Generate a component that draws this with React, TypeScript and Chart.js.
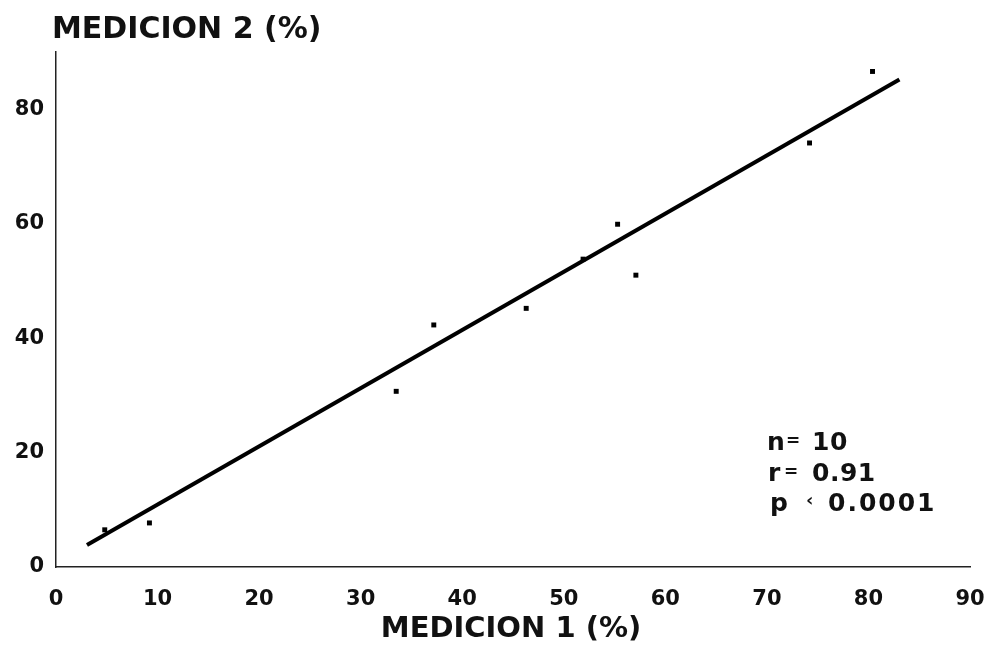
import React, { useEffect, useRef } from "react";
import { Chart, registerables } from "chart.js";

Chart.register(...registerables);

const medicion1 = [4.8, 9.2, 33.5, 37.2, 46.3, 51.9, 55.3, 57.1, 74.2, 80.4];
const medicion2 = [6.5, 7.7, 30.7, 42.3, 45.2, 53.8, 59.9, 51.0, 74.1, 86.6];
const fitX = [3.05, 83.05];
const fitY = [3.85, 85.2];
const xTicks = [0, 10, 20, 30, 40, 50, 60, 70, 80, 90];
const yTicks = [0, 20, 40, 60, 80];
const yTitle = "MEDICION 2 (%)";
const xTitle = "MEDICION 1 (%)";
const statNames = ["n", "r", "p"];
const statOps = ["=", "=", "\u2039"];
const statValues = ["10", "0.91", "0.0001"];

const FONT = "'DejaVu Sans', Verdana, sans-serif";

const textPlugin = {
  id: "textPlugin",
  afterDraw(chart: any) {
    const ctx = chart.ctx as CanvasRenderingContext2D;
    ctx.save();
    ctx.fillStyle = "#111";
    ctx.textBaseline = "alphabetic";
    ctx.font = `bold 30px ${FONT}`;
    ctx.textAlign = "left";
    ctx.fillText(yTitle, 52, 38);
    ctx.font = `bold 29px ${FONT}`;
    ctx.textAlign = "center";
    ctx.fillText(xTitle, 511, 637);
    ctx.textAlign = "left";
    const baselines = [450, 481, 511];
    const nameX = [767, 768, 770];
    const opX = [786, 784, 806];
    const valueX = [812, 812, 828];
    statNames.forEach((s, i) => {
      (ctx as any).letterSpacing = "0px";
      ctx.font = `bold 25px ${FONT}`;
      ctx.fillText(s, nameX[i], baselines[i]);
      ctx.font = `bold ${i === 2 ? 18 : 17}px ${FONT}`;
      ctx.fillText(statOps[i], opX[i], baselines[i] - (i === 2 ? 5 : 4));
      ctx.font = `bold 25px ${FONT}`;
      (ctx as any).letterSpacing = i === 2 ? "2px" : "0.5px";
      ctx.fillText(statValues[i], valueX[i], baselines[i]);
    });
    ctx.restore();
  },
};

export default function App() {
  const ref = useRef<HTMLCanvasElement>(null);
  useEffect(() => {
    if (!ref.current) return;
    const chart = new Chart(ref.current, {
      type: "scatter",
      data: {
        datasets: [
          {
            type: "line",
            data: fitX.map((x, i) => ({ x, y: fitY[i] })),
            borderColor: "#000",
            borderWidth: 4,
            pointRadius: 0,
            fill: false,
          } as any,
          {
            type: "scatter",
            data: medicion1.map((x, i) => ({ x, y: medicion2[i] })),
            backgroundColor: "#000",
            borderColor: "#000",
            pointStyle: "rect",
            pointRadius: 3.5,
            borderWidth: 0,
          },
        ],
      },
      options: {
        responsive: false,
        animation: false,
        layout: { padding: { left: 0, top: 52, right: 23, bottom: 0 } },
        plugins: { legend: { display: false }, tooltip: { enabled: false } },
        scales: {
          x: {
            type: "linear",
            min: 0,
            max: 90,
            afterBuildTicks: (s: any) => {
              s.ticks = xTicks.map((v) => ({ value: v }));
            },
            afterFit: (s: any) => {
              s.height = 83;
              s.paddingLeft = 0;
              s.paddingRight = 0;
            },
            grid: { display: false, drawTicks: false },
            border: { display: true, color: "#222", width: 1.5 },
            ticks: {
              color: "#111",
              font: { family: FONT, size: 21, weight: "bold" },
              padding: 20,
              maxRotation: 0,
              autoSkip: false,
            },
          },
          y: {
            type: "linear",
            min: 0,
            max: 90,
            afterBuildTicks: (s: any) => {
              s.ticks = yTicks.map((v) => ({ value: v }));
            },
            afterFit: (s: any) => {
              s.width = 56;
              s.paddingTop = 0;
              s.paddingBottom = 0;
            },
            grid: { display: false, drawTicks: false },
            border: { display: true, color: "#222", width: 1.5 },
            ticks: {
              color: "#111",
              font: { family: FONT, size: 21, weight: "bold" },
              padding: 12,
              autoSkip: false,
            },
          },
        },
      },
      plugins: [textPlugin],
    });
    return () => chart.destroy();
  }, []);
  return (
    <div style={{ position: "absolute", left: 0, top: 0, width: 993, height: 650, background: "#fff" }}>
      <canvas ref={ref} width={993} height={650} style={{ display: "block" }} />
    </div>
  );
}
